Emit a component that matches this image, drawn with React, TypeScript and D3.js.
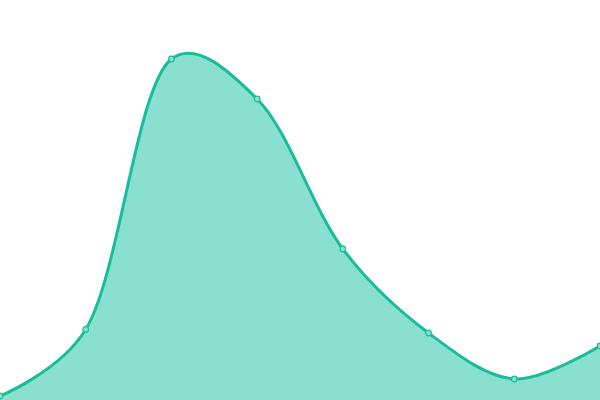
import React, { useEffect, useRef } from "react";
import * as d3 from "d3";

const categories = ["A", "B", "C", "D", "E", "F", "G", "H"];
const values = [4, 70.5, 341, 301, 151, 67, 21, 54];
const yDomain = [0, 400];

const WIDTH = 600;
const HEIGHT = 400;
const LINE_COLOR = "#1abc9c";
const FILL_COLOR = "#8ae0cf";

export default function App() {
  const ref = useRef<SVGSVGElement | null>(null);

  useEffect(() => {
    const svg = d3.select(ref.current);
    svg.selectAll("*").remove();

    const x = d3
      .scalePoint<string>()
      .domain(categories)
      .range([0, WIDTH]);
    const y = d3.scaleLinear().domain(yDomain).range([HEIGHT, 0]);

    const data = categories.map((c, i) => ({ c, v: values[i] }));
    const curve = d3.curveCatmullRom.alpha(0.3);

    const area = d3
      .area<{ c: string; v: number }>()
      .x((d) => x(d.c)!)
      .y0(HEIGHT)
      .y1((d) => y(d.v))
      .curve(curve);
    const line = d3
      .line<{ c: string; v: number }>()
      .x((d) => x(d.c)!)
      .y((d) => y(d.v))
      .curve(curve);

    svg.append("path").attr("d", area(data)!).attr("fill", FILL_COLOR);
    svg
      .append("path")
      .attr("d", line(data)!)
      .attr("fill", "none")
      .attr("stroke", LINE_COLOR)
      .attr("stroke-width", 3);
    svg
      .selectAll("circle")
      .data(data)
      .enter()
      .append("circle")
      .attr("cx", (d) => x(d.c)!)
      .attr("cy", (d) => y(d.v))
      .attr("r", 2.8)
      .attr("fill", FILL_COLOR)
      .attr("stroke", LINE_COLOR)
      .attr("stroke-width", 1.2);
  }, []);

  return (
    <svg
      ref={ref}
      width={WIDTH}
      height={HEIGHT}
      style={{ position: "absolute", left: 0, top: 0, background: "#fff" }}
    />
  );
}
